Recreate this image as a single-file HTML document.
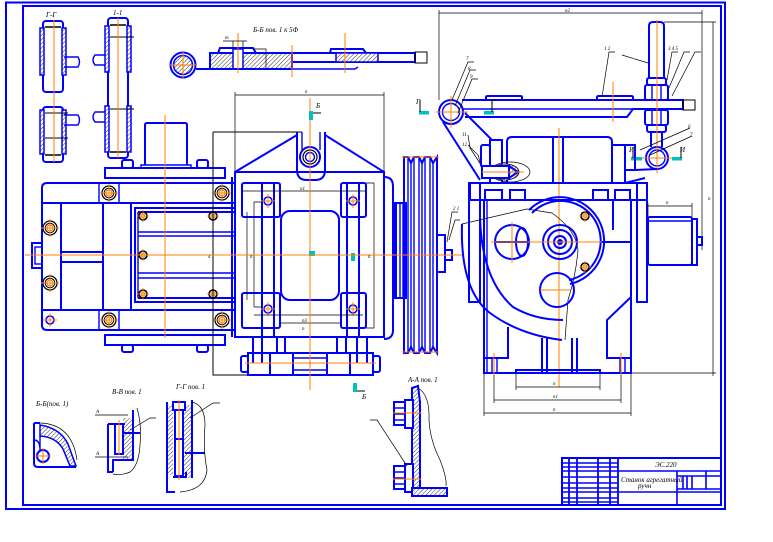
<!DOCTYPE html>
<html><head><meta charset="utf-8">
<style>
html,body{margin:0;padding:0;background:#fff;}
svg{display:block}
.b{stroke:#0000ff;stroke-width:2;fill:none}
.bt{stroke:#0000ff;stroke-width:1.4;fill:none}
.bf{stroke:#0000ff;stroke-width:2;fill:#fff}
.o{stroke:#ff8000;stroke-width:1;fill:none}
.k{stroke:#000;stroke-width:0.7;fill:none}
.kk{stroke:#000;stroke-width:1;fill:none}
.h{fill:url(#hat);stroke:#0000ff;stroke-width:1.5}
.c{fill:#00c0c0}
text{font-family:"Liberation Serif",serif;font-style:italic;font-size:7px;fill:#000}
.s{font-size:5px}
</style></head><body>
<svg width="773" height="542" viewBox="0 0 773 542" xmlns="http://www.w3.org/2000/svg">
<defs>
<pattern id="hat" width="3" height="3" patternUnits="userSpaceOnUse" patternTransform="rotate(45)">
<rect width="3" height="3" fill="#fff"/>
<line x1="0" y1="0" x2="0" y2="3" stroke="#000" stroke-width="0.8"/>
</pattern>
<g id="bl"><circle r="7" fill="none" stroke="#000" stroke-width="1.3"/><circle r="4.8" fill="none" stroke="#000" stroke-width="1"/><circle r="3" fill="none" stroke="#ff8000" stroke-width="1.2"/><path d="M-9 0H9M0 -9V9" stroke="#ff8000" stroke-width="0.9"/></g>
<g id="bs"><circle r="4" fill="none" stroke="#000" stroke-width="1.6"/><circle r="2" fill="none" stroke="#ff8000" stroke-width="1"/><path d="M-6 0H6M0 -6V6" stroke="#ff8000" stroke-width="0.8"/></g>
<g id="bp"><circle r="4" fill="none" stroke="#0000ff" stroke-width="1.5"/><path d="M-7 0H7M0 -7V7" stroke="#ff8000" stroke-width="0.9"/></g>
</defs>

<!-- frame -->
<rect x="6" y="2.5" width="719" height="506.5" class="b"/>
<rect x="23" y="6" width="698" height="499" class="b"/>

<!-- Г-Г top-left -->
<text x="46" y="17">Г-Г</text>
<rect x="43" y="21" width="20" height="71" rx="3" class="b"/>
<rect x="40" y="28" width="4" height="47" class="h"/>
<rect x="62" y="28" width="4" height="47" class="h"/>
<line x1="45" y1="27" x2="61" y2="27" stroke="#000" stroke-width="1.5"/>
<path d="M64 57 H78 Q81 62 78 67 H64" class="bt"/>
<rect x="43" y="107" width="20" height="55" rx="3" class="b"/>
<rect x="40" y="110" width="4" height="44" class="h"/>
<rect x="62" y="110" width="4" height="44" class="h"/>
<line x1="45" y1="113" x2="68" y2="113" stroke="#000" stroke-width="1"/>
<line x1="45" y1="138" x2="68" y2="138" stroke="#000" stroke-width="1"/>
<line x1="45" y1="155" x2="61" y2="155" stroke="#000" stroke-width="1.5"/>
<path d="M64 115 H78 Q81 120 78 125 H64" class="bt"/>
<line x1="54" y1="20" x2="54" y2="162" class="o"/>

<!-- 1-1 -->
<text x="113" y="15">1-1</text>
<rect x="108" y="18" width="20" height="140" rx="3" class="b"/>
<rect x="105" y="26" width="4" height="46" class="h"/>
<rect x="127" y="26" width="4" height="46" class="h"/>
<rect x="105" y="106" width="4" height="46" class="h"/>
<rect x="127" y="106" width="4" height="46" class="h"/>
<line x1="110" y1="25" x2="126" y2="25" stroke="#000" stroke-width="1.5"/>
<line x1="110" y1="37" x2="134" y2="37" stroke="#000" stroke-width="1"/>
<line x1="110" y1="109" x2="134" y2="109" stroke="#000" stroke-width="1"/>
<line x1="110" y1="152" x2="126" y2="152" stroke="#000" stroke-width="1.5"/>
<path d="M105 55 H95 Q91 60 95 65 H105" class="bt"/>
<path d="M105 112 H95 Q91 117 95 122 H105" class="bt"/>
<line x1="118" y1="18" x2="118" y2="158" class="o"/>

<!-- Б-Б section -->
<text x="253" y="32">Б-Б пов. 1     к 5Ф</text>
<circle cx="183" cy="65" r="12.5" class="b"/>
<circle cx="183" cy="65" r="9.5" fill="url(#hat)" stroke="#0000ff" stroke-width="1.5"/>
<line x1="170" y1="65" x2="196" y2="65" class="o"/>
<line x1="183" y1="52" x2="183" y2="78" class="o"/>
<rect x="210" y="53" width="82" height="16" fill="url(#hat)" stroke="#0000ff" stroke-width="2"/>
<rect x="233" y="49" width="10" height="20" fill="#fff" stroke="#0000ff" stroke-width="1.5"/>
<path d="M218 53 L220 48 H253 L256 53" class="b"/>
<line x1="292" y1="53" x2="415" y2="53" class="b"/>
<line x1="292" y1="62" x2="415" y2="62" class="b"/>
<line x1="196" y1="69" x2="292" y2="69" class="b"/>
<path d="M292 69 H355 L358 67" class="bt"/>
<rect x="336" y="53" width="42" height="9" fill="url(#hat)" stroke="#0000ff" stroke-width="1.5"/>
<path d="M330 53 L331 49 H363 L366 53" class="b"/>
<path d="M415 52 V63" class="b"/>
<rect x="415" y="52" width="12" height="11" class="kk"/>
<line x1="238" y1="33" x2="238" y2="73" class="o"/>
<line x1="292" y1="45" x2="292" y2="77" class="o"/>
<line x1="345" y1="33" x2="345" y2="73" class="o"/>
<path d="M223 41 H247 M233 41 V49 M243 41 V49" class="k"/>
<path d="M253 49 H266 V69" class="k"/>
<text x="225" y="39" class="s">m</text>

<!-- motor view (left) -->
<path d="M145 165 V125 Q145 123 147 123 H185 Q187 123 187 125 V165" class="b"/>
<path d="M141 168 V165 H191 V168" class="bt"/>
<rect x="105" y="168" width="120" height="10" class="b"/>
<rect x="122" y="160" width="11" height="8" rx="2" class="b"/>
<rect x="197" y="160" width="11" height="8" rx="2" class="b"/>
<path d="M47 183 H235 V330 H47 Q42 330 42 325 V188 Q42 183 47 183 Z" class="b"/>
<line x1="42" y1="203" x2="235" y2="203" class="b"/>
<line x1="42" y1="310" x2="235" y2="310" class="b"/>
<rect x="61" y="203" width="42" height="107" class="b"/>
<rect x="103" y="203" width="28" height="107" class="b"/>
<line x1="61" y1="252" x2="103" y2="252" class="b"/>
<line x1="61" y1="262" x2="103" y2="262" class="b"/>
<rect x="135" y="208" width="100" height="94" class="b"/>
<line x1="138" y1="212" x2="235" y2="212" class="b"/>
<line x1="138" y1="298" x2="235" y2="298" class="b"/>
<line x1="138" y1="212" x2="138" y2="298" class="bt"/>
<line x1="138" y1="232" x2="235" y2="232" class="bt"/>
<line x1="138" y1="236" x2="235" y2="236" class="bt"/>
<line x1="138" y1="273" x2="235" y2="273" class="bt"/>
<line x1="138" y1="278" x2="235" y2="278" class="bt"/>
<path d="M99 183 V203 M119 183 V203 M99 310 V330 M119 310 V330" class="bt"/>
<rect x="105" y="335" width="120" height="10" class="b"/>
<rect x="122" y="345" width="11" height="7" rx="2" class="b"/>
<rect x="197" y="345" width="11" height="7" rx="2" class="b"/>
<rect x="32" y="243" width="10" height="25" class="b"/>
<rect x="35" y="247" width="7" height="17" class="bt"/>
<use href="#bl" x="109" y="193"/>
<use href="#bl" x="222" y="193"/>
<use href="#bl" x="50" y="228"/>
<use href="#bl" x="50" y="283"/>
<use href="#bl" x="109" y="320"/>
<use href="#bl" x="222" y="320"/>
<use href="#bp" x="50" y="320"/>
<use href="#bs" x="143" y="216"/>
<use href="#bs" x="213" y="216"/>
<use href="#bs" x="143" y="255"/>
<use href="#bs" x="143" y="294"/>
<use href="#bs" x="213" y="294"/>
<line x1="165" y1="115" x2="165" y2="338" class="o"/>
<path d="M213 132 H302 M213 132 V375 H250" class="kk"/>
<text x="208" y="258" class="s">4</text>

<!-- central view -->
<path d="M235 95 H384 M235 92 V172 M384 92 V172" class="k"/>
<text x="305" y="93" class="s">n</text>
<path d="M235 172 L297 135 M325 135 L384 172" class="b"/>
<path d="M297 132 V170 Q297 180 307 180 H315 Q325 180 325 170 V132" class="b"/>
<path d="M302 132 V150 M320 132 V150" class="bt"/>
<circle cx="310" cy="157" r="10" class="b"/>
<circle cx="310" cy="157" r="7" stroke="#000" stroke-width="1.2" fill="none"/>
<circle cx="310" cy="157" r="4.5" class="bt"/>
<rect x="235" y="172" width="149" height="165" class="b"/>
<line x1="232" y1="177" x2="232" y2="337" class="b"/>
<rect x="242" y="183" width="38" height="34" rx="2" class="b"/>
<rect x="341" y="183" width="25" height="34" rx="2" class="b"/>
<rect x="242" y="293" width="38" height="35" rx="2" class="b"/>
<rect x="341" y="293" width="25" height="35" rx="2" class="b"/>
<path d="M262 183 V337 M274 183 V337 M347 183 V337 M359 183 V337" class="b"/>
<rect x="281" y="211" width="58" height="89" rx="9" class="b"/>
<use href="#bp" x="268" y="201"/>
<use href="#bp" x="353" y="201"/>
<use href="#bp" x="268" y="309"/>
<use href="#bp" x="353" y="309"/>
<path d="M242 191 H366" class="k"/>
<path d="M254 202 V307 M254 202 H262 M254 307 H262" class="k"/>
<path d="M247 212 V300" class="k"/>
<path d="M254 315 H363 M281 323 H340" class="k"/>
<path d="M366 183 H374 V328 H366" class="k"/>
<path d="M253 337 V363 M262 337 V363 M277 337 V353 M285 337 V353 M337 337 V353 M346 337 V353 M357 337 V363 M367 337 V363" class="b"/>
<rect x="248" y="353" width="125" height="22" class="b"/>
<path d="M270 353 V375 M293 353 V375 M327 353 V375 M350 353 V375" class="b"/>
<path d="M293 358 H327 M293 370 H327" class="bt"/>
<rect x="241" y="356" width="7" height="16" rx="2" class="b"/>
<rect x="373" y="356" width="7" height="16" rx="2" class="b"/>
<line x1="245" y1="363" x2="376" y2="363" class="o"/>
<line x1="310" y1="98" x2="310" y2="390" class="o"/>
<rect x="309" y="111" width="4" height="9" class="c"/>
<path d="M313 113 H321" class="kk"/>
<text x="316" y="108">Б</text>
<rect x="309" y="251" width="6" height="5" class="c"/>
<rect x="351" y="253" width="4" height="8" class="c"/>
<rect x="353" y="383" width="4" height="9" class="c"/>
<path d="M357 391 H365" class="kk"/>
<text x="362" y="399">Б</text>
<text x="300" y="190" class="s">n1</text>
<text x="302" y="322" class="s">n3</text>
<text x="302" y="330" class="s">n</text>
<text x="250" y="258" class="s">n</text>
<text x="368" y="258" class="s">n</text>

<!-- flange + hub + pulley -->
<path d="M384 177 Q393 177 393 186 V330 Q393 339 384 339" class="b"/>
<rect x="393" y="203" width="4" height="95" fill="#0000ff"/>
<rect x="393" y="203" width="13" height="95" class="b"/>
<path d="M400 203 V298 M403 203 V298" class="bt"/>
<path d="M404 157 H408 L411 163 L414 157 H419 L422 163 L425 157 H430 L433 163 L437 157 V353 L433 347 L430 353 H425 L422 347 L419 353 H414 L411 347 L408 353 H404 Z" class="b"/>
<path d="M408 157 V353 M411 163 V347 M414 157 V353 M419 157 V353 M422 163 V347 M425 157 V353 M430 157 V353 M433 163 V347" class="bt"/>
<line x1="402" y1="157" x2="439" y2="157" class="o"/>
<line x1="402" y1="352" x2="439" y2="352" class="o"/>
<rect x="437" y="235" width="8" height="37" class="b"/>
<rect x="445" y="250" width="7" height="10" class="b"/>
<line x1="25" y1="255" x2="462" y2="255" class="o"/>
<path d="M447 242 L452 212 L458 212 M449 240 L455 220 L460 220" class="k"/>
<text x="453" y="210" class="s">2 1</text>

<!-- right view dims -->
<path d="M439 13 H702 M439 10 V100 M702 10 V250" class="k"/>
<path d="M664 22 H716 M713 22 V376 M631 373 H716" class="k"/>
<text x="565" y="12" class="s">n2</text>
<text x="708" y="200" class="s">n</text>

<!-- lever -->
<path d="M462 100 H683 V109 H633 L627 117 H465" class="b"/>
<line x1="462" y1="109" x2="633" y2="109" class="bt"/>
<path d="M486 100 V97 Q486 96 488 96 H520 Q522 96 522 97 V100" class="b"/>
<path d="M597 100 V97 Q597 96 599 96 H631 Q633 96 633 97 V100" class="b"/>
<rect x="683" y="100" width="12" height="10" class="kk"/>
<line x1="613" y1="82" x2="613" y2="122" class="o"/>
<circle cx="451" cy="112" r="12" class="b"/>
<circle cx="451" cy="112" r="8.5" class="bt"/>
<path d="M436 112 H468 M451 96 V128" class="o"/>
<path d="M443 122 L480 180 M465 113 L492 140" class="b"/>

<!-- rod -->
<path d="M649 78 V26 Q649 22 653 22 H660 Q664 22 664 26 V78" class="b"/>
<rect x="647" y="78" width="19" height="7" rx="2" class="b"/>
<rect x="645" y="85" width="23" height="15" rx="2" class="b"/>
<path d="M652 85 V100 M661 85 V100" class="bt"/>
<rect x="645" y="110" width="23" height="15" rx="2" class="b"/>
<rect x="647" y="125" width="19" height="7" rx="2" class="b"/>
<path d="M652 110 V125 M661 110 V125" class="bt"/>
<path d="M651 132 V147 M662 132 V147" class="b"/>
<circle cx="657" cy="158" r="11" class="b"/>
<circle cx="657" cy="158" r="8" class="bt"/>
<path d="M641 158 H673" class="o"/>
<line x1="657" y1="20" x2="657" y2="173" class="o"/>

<!-- leaders -->
<path d="M667 80 L672 52 L678 52 M669 88 L684 52 L690 52 M672 96 L695 52 L701 52 M622 55 L648 63 M602 97 L609 52 L615 52" class="k"/>
<path d="M452 100 L468 62 L474 62 M455 106 L470 70 L476 70 M458 113 L472 79 L478 79" class="k"/>
<path d="M640 150 L690 128 M650 155 L692 136" class="k"/>
<path d="M468 135 L470 148 L483 168 M468 145 L478 155 L483 172" class="k"/>
<text x="604" y="50" class="s">1 2</text>
<text x="668" y="50" class="s">3 4 5</text>
<text x="466" y="60" class="s">7</text>
<text x="468" y="70" class="s">8</text>
<text x="470" y="78" class="s">9</text>
<text x="688" y="128" class="s">6</text>
<text x="690" y="136" class="s">7</text>
<text x="462" y="136" class="s">11</text>
<text x="462" y="146" class="s">12</text>

<!-- cyan markers -->
<rect x="419" y="111" width="10" height="3.5" class="c"/>
<path d="M420 100 V112" class="kk"/>
<text x="416" y="104">Г</text>
<rect x="484" y="111" width="10" height="3.5" class="c"/>
<path d="M492 100 V112" class="kk"/>
<text x="491" y="104">Г</text>
<rect x="631" y="157" width="11" height="3.5" class="c"/>
<path d="M633 147 V158" class="kk"/>
<text x="629" y="152">И</text>
<rect x="672" y="157" width="10" height="3.5" class="c"/>
<path d="M681 147 V158" class="kk"/>
<text x="680" y="152">И</text>

<!-- upper housing -->
<path d="M507 183 V142 Q507 137 512 137 H607 Q612 137 612 142 V183" class="b"/>
<path d="M553 137 V183 M563 137 V183" class="b"/>
<rect x="481" y="145" width="9" height="22" rx="2" class="b"/>
<rect x="490" y="140" width="12" height="43" class="b"/>
<rect x="612" y="145" width="13" height="38" class="b"/>
<rect x="625" y="145" width="10" height="25" class="b"/>
<path d="M635 170 L657 169 M625 183 L645 178" class="b"/>
<ellipse cx="510" cy="172" rx="20" ry="10" class="k"/>
<ellipse cx="505" cy="172" rx="14" ry="8" fill="url(#hat)" stroke="#000" stroke-width="0.8"/>
<rect x="482" y="166" width="27" height="12" fill="#fff" stroke="#0000ff" stroke-width="2"/>
<path d="M509 166 L518 172 L509 178" class="b"/>
<line x1="482" y1="172" x2="524" y2="172" class="o"/>
<line x1="559" y1="128" x2="559" y2="387" class="o"/>

<!-- frame row -->
<rect x="470" y="183" width="177" height="17" class="b"/>
<rect x="485" y="190" width="17" height="10" class="b"/>
<rect x="510" y="190" width="15" height="10" class="b"/>
<rect x="593" y="190" width="15" height="10" class="b"/>
<rect x="615" y="190" width="15" height="10" class="b"/>
<rect x="469" y="183" width="11" height="119" class="b"/>
<rect x="637" y="183" width="10" height="119" class="b"/>

<!-- body -->
<rect x="484" y="200" width="147" height="173" class="b"/>
<line x1="487" y1="200" x2="487" y2="373" class="bt"/>
<path d="M613 200 V230 M602 242 H631" class="b"/>
<path d="M484 358 H508 V327" class="b"/>
<path d="M631 297 L607 320 V358 H631" class="b"/>
<path d="M542 338 V373 M547 338 V373 M572 338 V373 M577 338 V373" class="b"/>
<path d="M492 358 V373 M497 358 V373 M620 358 V373 M625 358 V373" class="bt"/>
<path d="M516 373 V370 H600 V373" class="b"/>

<!-- cam -->
<path d="M462 224 Q460 290 490 313 Q520 335 562 340" class="b"/>
<path d="M480 218 Q482 280 513 307 Q535 320 563 320" class="b"/>
<path d="M462 224 L527 209 L552 213 Q576 230 578 250 Q576 275 568 300 L565 340" class="k"/>
<path d="M529 210 A44 44 0 1 1 570 284" class="b"/>
<path d="M532 213 A40 40 0 1 1 569 280" class="b"/>
<circle cx="512" cy="242" r="17" class="b"/>
<ellipse cx="522" cy="242" rx="6" ry="14" class="b"/>
<path d="M495 242 H529" class="b"/>
<circle cx="560" cy="242" r="17" class="b"/>
<circle cx="560" cy="242" r="12" class="b"/>
<circle cx="560" cy="242" r="6" class="b"/>
<circle cx="560" cy="242" r="3" fill="#0000ff"/>
<circle cx="557" cy="290" r="17" class="b"/>
<use href="#bs" x="585" y="216"/>
<use href="#bs" x="585" y="267"/>
<line x1="491" y1="242" x2="601" y2="242" class="o"/>
<line x1="512" y1="222" x2="512" y2="263" class="o"/>
<line x1="540" y1="290" x2="570" y2="290" class="o"/>
<line x1="494" y1="353" x2="494" y2="376" class="o"/>
<line x1="621" y1="353" x2="621" y2="376" class="o"/>

<!-- bottom dims of right view -->
<path d="M516 373 V390 M600 373 V390 M516 387 H600" class="k"/>
<path d="M494 375 V403 M621 375 V403 M494 400 H621" class="k"/>
<path d="M484 373 V416 M631 373 V416 M484 413 H631" class="k"/>
<text x="553" y="385" class="s">n</text>
<text x="553" y="398" class="s">n1</text>
<text x="553" y="411" class="s">n</text>

<!-- right motor -->
<rect x="648" y="217" width="44" height="48" rx="2" class="b"/>
<line x1="648" y1="221" x2="692" y2="221" class="bt"/>
<rect x="692" y="219" width="5" height="46" class="b"/>
<rect x="697" y="237" width="5" height="8" class="b"/>
<path d="M648 217 V203 M692 217 V203 M648 206 H692" class="k"/>
<text x="666" y="204" class="s">n</text>

<!-- bottom section Б-Б(пов.) -->
<text x="36" y="406">Б-Б(пов. 1)</text>
<path d="M34 423 V463 Q34 467 38 467 H76" class="b"/>
<path d="M34 423 H40" class="b"/>
<path d="M40 425 Q60 428 68 444 L76 466 L70 466 L63 449 Q56 437 40 436 Z" fill="url(#hat)" stroke="#0000ff" stroke-width="1.5"/>
<path d="M40 436 V450 Q40 440 34 440" class="bt"/>
<path d="M40 423 Q72 424 77 460" class="k"/>
<circle cx="43" cy="456" r="6" class="b"/>
<path d="M35 456 H51 M43 448 V464" class="o"/>

<!-- В-В -->
<text x="112" y="394">В-В пов. 1</text>
<path d="M123 418 H133 V460 H123 Z" fill="url(#hat)"/>
<path d="M108 424 H125 M108 424 V472 H113" class="b"/>
<rect x="115" y="424" width="8" height="30" class="b"/>
<line x1="119" y1="420" x2="119" y2="455" class="o"/>
<path d="M133 410 V460 H113 V472" class="b"/>
<path d="M123 433 H140" class="b"/>
<path d="M137 408 Q142 425 140 445 Q139 465 130 472 Q120 476 113 474" class="k"/>
<path d="M95 415 H128 M95 457 H128" class="k"/>
<path d="M130 430 L150 418 L156 418" class="k"/>
<text x="96" y="413" class="s">A</text>
<text x="96" y="455" class="s">A</text>

<!-- Г-Г bottom -->
<text x="176" y="389">Г-Г пов. 1</text>
<rect x="167" y="405" width="6" height="70" fill="url(#hat)"/>
<rect x="184" y="405" width="9" height="73" fill="url(#hat)"/>
<path d="M167 402 V492 H175" class="b"/>
<rect x="173" y="402" width="12" height="8" class="b"/>
<path d="M175 410 V476 H183 V410" class="b"/>
<path d="M175 439 H183" class="b"/>
<path d="M173 477 H186 V472" class="b"/>
<path d="M192 400 V478" class="b"/>
<path d="M185 453 H205" class="b"/>
<line x1="179" y1="400" x2="179" y2="480" class="o"/>
<path d="M192 402 Q205 405 205 425 Q203 450 207 470 Q205 490 180 492" class="k"/>
<path d="M190 418 L213 403 L220 403" class="k"/>

<!-- А-А -->
<text x="408" y="382">А-А пов. 1</text>
<path d="M412 388 L418 386 L420 402 L420 488 L412 488 Z" fill="url(#hat)" stroke="#0000ff" stroke-width="2"/>
<rect x="394" y="402" width="11" height="23" class="bf"/>
<path d="M394 408 H405 M394 414 H405 M394 420 H405" class="bt"/>
<rect x="405" y="400" width="8" height="28" class="bf"/>
<rect x="394" y="466" width="11" height="23" class="bf"/>
<path d="M394 472 H405 M394 478 H405 M394 484 H405" class="bt"/>
<rect x="405" y="464" width="8" height="28" class="bf"/>
<path d="M412 488 H447 V496 H412 Z" fill="url(#hat)" stroke="#0000ff" stroke-width="2"/>
<line x1="393" y1="413" x2="421" y2="413" class="o"/>
<line x1="393" y1="479" x2="421" y2="479" class="o"/>
<path d="M418 388 Q430 395 429 420 Q430 440 440 460 Q447 478 446 486" class="k"/>
<path d="M370 420 L377 420 L407 466" class="k"/>

<!-- title block -->
<rect x="562" y="458" width="159" height="47" stroke="#0000ff" stroke-width="2" fill="none"/>
<path d="M569 458 V505 M577 458 V505 M598 458 V505 M610 458 V505 M618 458 V505" stroke="#0000ff" stroke-width="1.8" fill="none"/>
<path d="M562 463 H618 M562 467 H618 M562 471 H721 M562 477 H618 M562 483 H618 M562 488 H618 M562 492 H721 M562 498 H618 M562 502 H618" stroke="#0000ff" stroke-width="1.6" fill="none"/>
<path d="M677 471 V505 M677 476 H721 M677 489 H721 M683 476 V489 M687 476 V489 M692 476 V489 M706 471 V489" stroke="#0000ff" stroke-width="1.6" fill="none"/>
<text x="655" y="467" font-size="6">ЭС.220</text>
<text x="621" y="482" font-size="6">Станок агрегатный</text>
<text x="638" y="488" font-size="6">ручн</text>
</svg>
</body></html>
